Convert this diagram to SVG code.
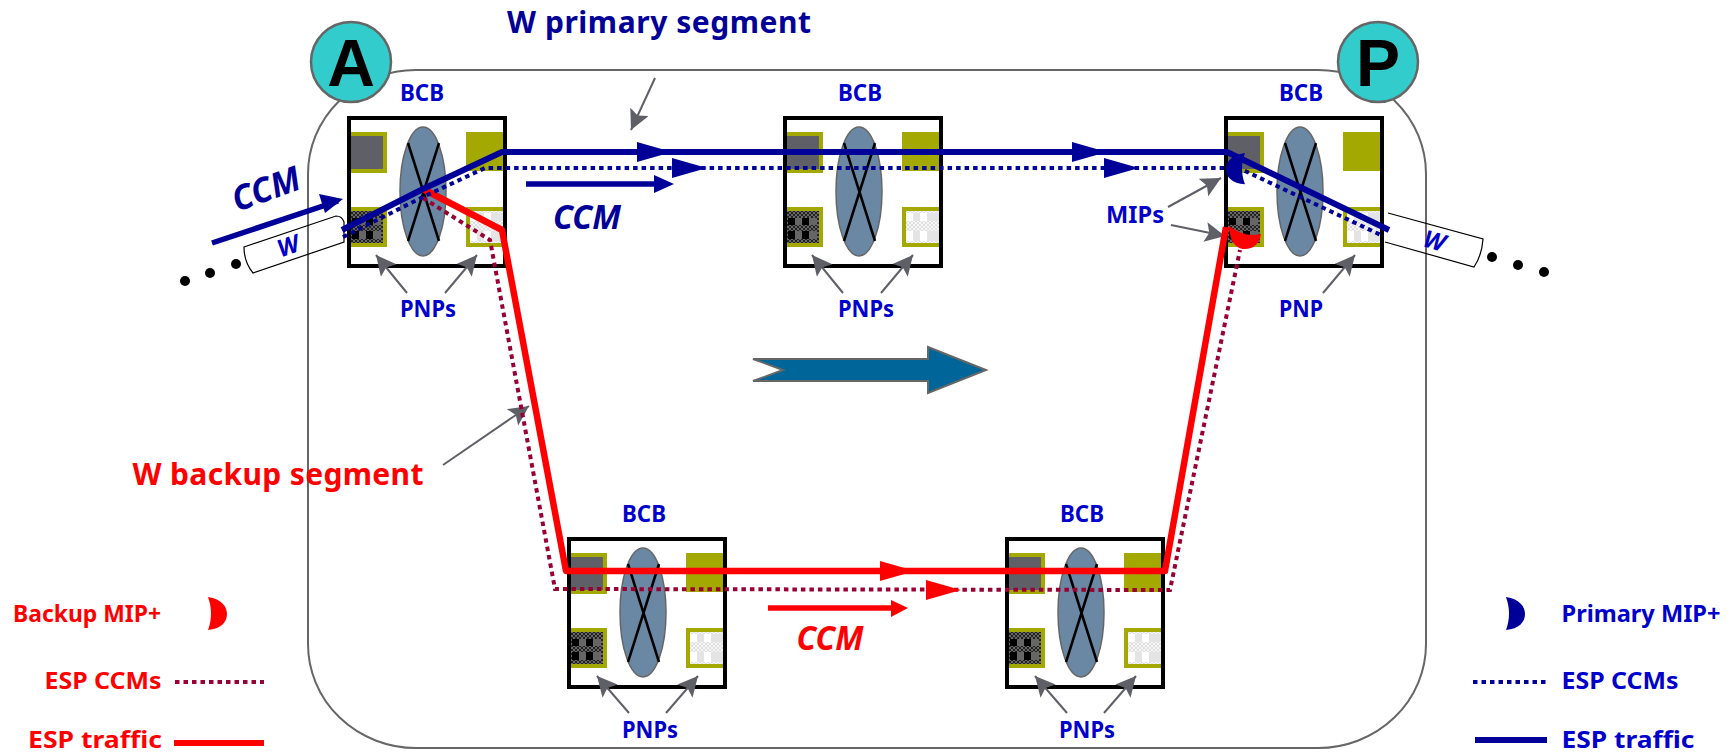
<svg xmlns="http://www.w3.org/2000/svg" width="1736" height="754" viewBox="0 0 1736 754">
<style>
text{font-family:"Noto Sans","Open Sans","DejaVu Sans",sans-serif;font-weight:700;text-anchor:middle}
.lbl{fill:#0000cc;font-size:24px}
.red{fill:#ff0000;font-size:23px}
.leg{fill:#0000cc;font-size:23px}
.ccm{font-size:34px;font-style:italic}
.seg{font-size:30px}
.sb{fill:none;stroke:#000099;stroke-width:6;stroke-linejoin:round}
.db{fill:none;stroke:#000099;stroke-width:4;stroke-dasharray:4.500 4}
.sr{fill:none;stroke:#ff0000;stroke-width:6.500;stroke-linejoin:round}
.dr{fill:none;stroke:#990033;stroke-width:4;stroke-dasharray:4.500 4}
.gr{fill:none;stroke:#5f5f67;stroke-width:2;marker-end:url(#gh)}
.tube{fill:none;stroke:#000;stroke-width:1.200}
</style>
<defs>
<marker id="gh" markerUnits="userSpaceOnUse" markerWidth="24" markerHeight="22" refX="20" refY="10" orient="auto"><path d="M0,0L20,10L0,20L4,10Z" fill="#5f5f67"/></marker>
<clipPath id="inbox"><rect x="0" y="0" width="156" height="148"/></clipPath>
<pattern id="fd" width="4" height="4" patternUnits="userSpaceOnUse"><rect width="4" height="4" fill="#666"/><rect width="2" height="2" fill="#222"/><rect x="2" y="2" width="2" height="2" fill="#222"/></pattern>
<pattern id="fl" width="4" height="4" patternUnits="userSpaceOnUse"><rect width="4" height="4" fill="#f6f6f6"/><rect width="2" height="2" fill="#e0e0e0"/><rect x="2" y="2" width="2" height="2" fill="#e0e0e0"/></pattern>
<g id="bcb">
<rect x="0" y="0" width="156" height="148" fill="#fff"/>
<g clip-path="url(#inbox)">
<rect x="-6" y="16" width="42" height="37" fill="#5f5f67" stroke="#a3a900" stroke-width="4"/>
<rect x="117" y="14" width="39" height="39" fill="#a3a900"/>
<rect x="-6" y="91" width="42" height="36" fill="url(#fd)" stroke="#a3a900" stroke-width="4"/>
<path d="M3,100h7v7h-7zM17,100h7v7h-7zM3,113h7v8h-7zM17,113h7v8h-7z" fill="#000"/><path d="M10,100h7v7h-7zM24,100h8v7h-8zM10,113h7v8h-7zM24,113h8v8h-8z" fill="#666"/>
<rect x="119" y="91" width="42" height="36" fill="url(#fl)" stroke="#a3a900" stroke-width="4"/>
<path d="M121,95h7v8h-7zM135,95h7v8h-7zM121,113h7v10h-7zM135,113h7v10h-7z" fill="#fff"/><path d="M128,95h7v8h-7zM142,95h12v8h-12zM128,113h7v10h-7zM142,113h12v10h-12z" fill="#e4e4e4"/>
</g>
<ellipse cx="74" cy="73.500" rx="23" ry="64.500" fill="#6a87a3" stroke="#666" stroke-width="1.500"/>
<path d="M59,25L90,123M90,25L59,123" fill="none" stroke="#000" stroke-width="2.500"/>
<rect x="0" y="0" width="156" height="148" fill="none" stroke="#000" stroke-width="4"/>
</g>
<path id="crescent" d="M0,0C14,2 19,10 19,17C19,25 13,32 0,33C4,22 4,11 0,0Z"/>
</defs>

<g id="domain"><rect x="308" y="70" width="1118" height="678" rx="108" ry="104" fill="none" stroke="#666" stroke-width="2"/></g>
<g id="node-a"><circle cx="351" cy="62" r="40" fill="#33cccc" stroke="#666" stroke-width="2.500"/><text x="351" y="86" style="font-family:'Liberation Sans',sans-serif;font-size:66px">A</text></g>
<g id="node-p"><circle cx="1378" cy="62" r="40" fill="#33cccc" stroke="#666" stroke-width="2.500"/><text x="1378" y="86" style="font-family:'Liberation Sans',sans-serif;font-size:66px">P</text></g>

<g id="node-bcb1"><use href="#bcb" x="349" y="118"/><text class="lbl" x="422" y="101" textLength="44" lengthAdjust="spacingAndGlyphs">BCB</text><text class="lbl" x="428" y="317" textLength="56" lengthAdjust="spacingAndGlyphs">PNPs</text></g>
<g id="node-bcb2"><use href="#bcb" x="785" y="118"/><text class="lbl" x="860" y="101" textLength="44" lengthAdjust="spacingAndGlyphs">BCB</text><text class="lbl" x="866" y="317" textLength="56" lengthAdjust="spacingAndGlyphs">PNPs</text></g>
<g id="node-bcb3"><use href="#bcb" x="1226" y="118"/><text class="lbl" x="1301" y="101" textLength="44" lengthAdjust="spacingAndGlyphs">BCB</text><text class="lbl" x="1301" y="317" textLength="44" lengthAdjust="spacingAndGlyphs">PNP</text></g>
<g id="node-bcb4"><use href="#bcb" x="569" y="539"/><text class="lbl" x="644" y="522" textLength="44" lengthAdjust="spacingAndGlyphs">BCB</text><text class="lbl" x="650" y="738" textLength="56" lengthAdjust="spacingAndGlyphs">PNPs</text></g>
<g id="node-bcb5"><use href="#bcb" x="1007" y="539"/><text class="lbl" x="1082" y="522" textLength="44" lengthAdjust="spacingAndGlyphs">BCB</text><text class="lbl" x="1087" y="738" textLength="56" lengthAdjust="spacingAndGlyphs">PNPs</text></g>

<g id="connectors">
<path class="tube" d="M244,247L336,216Q342,216 344,222L344,242L253,273Q244,262 244,247Z"/>
<path class="tube" d="M1388,213L1483,239Q1482,255 1474,267L1385,242"/>
<path class="gr" d="M407,293L376,255"/><path class="gr" d="M445,293L477,255"/>
<path class="gr" d="M843,293L812,255"/><path class="gr" d="M881,293L913,255"/>
<path class="gr" d="M629,713L597,676"/><path class="gr" d="M666,713L698,676"/>
<path class="gr" d="M1067,713L1035,676"/><path class="gr" d="M1104,713L1136,676"/>
<path class="gr" d="M1323,293L1355,255"/>
<path class="gr" d="M1168,207L1221,178"/><path class="gr" d="M1171,225L1225,236"/>
<path class="gr" d="M655,78L631,130"/><path class="gr" d="M443,465L529,406"/>

<path class="dr" d="M423,198L490,240L555,589L1170,590L1240,250"/>
<path class="sr" d="M423,189L502,230L566,571L1165,571L1226,227"/>
<path class="db" d="M343,237L423,197L485,168L1226,168L1243,170L1383,236"/>
<path class="sb" d="M342,230L423,189L502,152L1227,152L1389,230"/>

<g fill="#000099"><path d="M637,142L672,152L637,162Z"/><path d="M1072,142L1107,152L1072,162Z"/><path d="M672,158L707,168L672,178Z"/><path d="M1104,158L1139,168L1104,178Z"/></g>
<g fill="#ff0000"><path d="M880,561L915,571L880,581Z"/><path d="M926,580L961,590L926,600Z"/></g>

<path d="M212,243L338,201" fill="none" stroke="#000099" stroke-width="5.500"/><path d="M343,199L325,213L319,194Z" fill="#000099"/>
<path d="M526,184L655,184" fill="none" stroke="#000099" stroke-width="5.500"/><path d="M674,184L654,175V193Z" fill="#000099"/>
<path d="M768,608L893,608" fill="none" stroke="#ff0000" stroke-width="5.500"/><path d="M908,608L891,600V617Z" fill="#ff0000"/>

<use href="#crescent" transform="translate(1245,153) scale(-1,0.95)" fill="#000099"/>
<path d="M1229,226Q1245,238 1261,234Q1258,250 1243,249Q1230,247 1229,226Z" fill="#ff0000"/>

<circle cx="185" cy="281" r="5"/><circle cx="210" cy="273" r="5"/><circle cx="236" cy="264" r="5"/>
<circle cx="1492" cy="257" r="5"/><circle cx="1518" cy="265" r="5"/><circle cx="1544" cy="272" r="5"/>
</g>

<g id="flow-arrow"><path d="M753,359H928V347L986,370L928,393V381H753L783,370Z" fill="#006699" stroke="#666" stroke-width="2"/></g>

<g id="labels">
<text class="seg" x="659" y="33" fill="#000099" textLength="304">W primary segment</text>
<text class="seg" x="278" y="485" fill="#ff0000" textLength="291">W backup segment</text>
<text class="ccm" transform="translate(270,200) rotate(-20)" fill="#000099" textLength="70" lengthAdjust="spacingAndGlyphs">CCM</text>
<text class="ccm" x="587" y="229" fill="#000099" textLength="68" lengthAdjust="spacingAndGlyphs">CCM</text>
<text class="ccm" x="830" y="650" fill="#ff0000" textLength="67" lengthAdjust="spacingAndGlyphs">CCM</text>
<text class="lbl" x="1135" y="223" textLength="58" lengthAdjust="spacingAndGlyphs">MIPs</text>
<text class="lbl" transform="translate(291,254) rotate(-19)" style="font-style:italic">W</text>
<text class="lbl" transform="translate(1432,249) rotate(16)" style="font-style:italic">W</text>
</g>

<g id="legend">
<text class="red" x="87" y="622" textLength="148" lengthAdjust="spacingAndGlyphs">Backup MIP+</text>
<use href="#crescent" x="208" y="597" fill="#ff0000"/>
<text class="red" x="103" y="689" textLength="117" lengthAdjust="spacingAndGlyphs">ESP CCMs</text>
<path class="dr" d="M175,682H264"/>
<text class="red" x="95" y="748" textLength="134" lengthAdjust="spacingAndGlyphs">ESP traffic</text>
<path d="M174,743H264" stroke="#ff0000" stroke-width="6" fill="none"/>
<use href="#crescent" x="1506" y="597" fill="#000099"/>
<text class="leg" x="1641" y="622" textLength="159" lengthAdjust="spacingAndGlyphs">Primary MIP+</text>
<path class="db" d="M1473,682H1546"/>
<text class="leg" x="1620" y="689" textLength="117" lengthAdjust="spacingAndGlyphs">ESP CCMs</text>
<path d="M1475,740H1547" stroke="#000099" stroke-width="6" fill="none"/>
<text class="leg" x="1628" y="748" textLength="133" lengthAdjust="spacingAndGlyphs">ESP traffic</text>
</g>
</svg>
